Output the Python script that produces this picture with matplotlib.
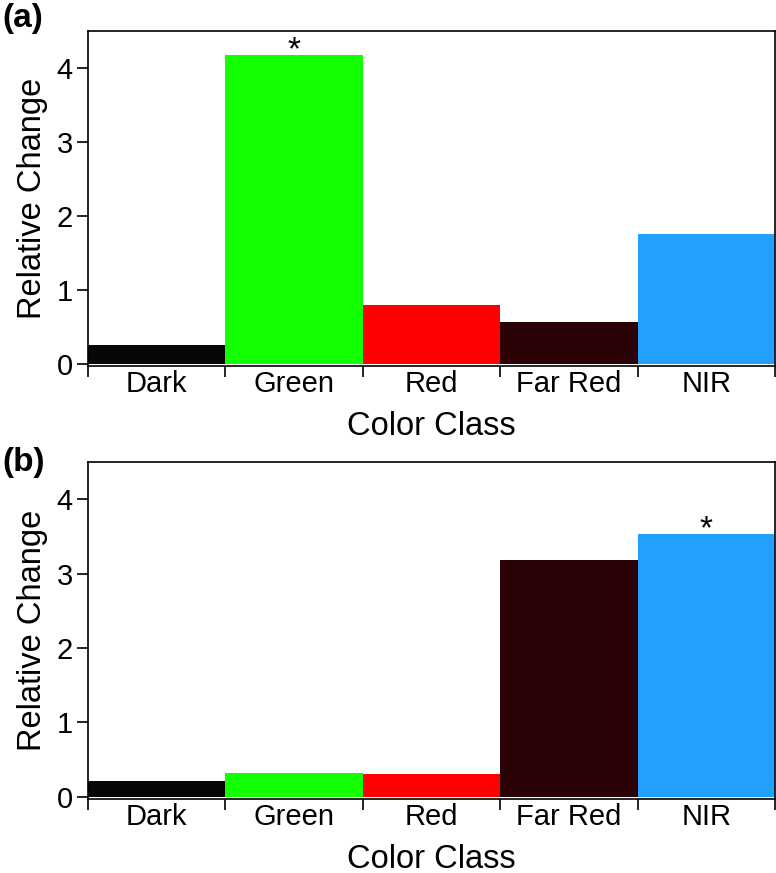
import matplotlib
matplotlib.use("Agg")
import matplotlib.pyplot as plt
import numpy as np

plt.rcParams['font.family'] = ['Liberation Sans', 'DejaVu Sans']

categories = ["Dark", "Green", "Red", "Far Red", "NIR"]
values_a = [0.26, 4.18, 0.80, 0.56, 1.76]
values_b = [0.21, 0.32, 0.30, 3.18, 3.53]
colors = ["#060606", "#12ff00", "#ff0000", "#2b0205", "#22a0ff"]
star_a = [1]
star_b = [4]
yticks = [0, 1, 2, 3, 4]

fig = plt.figure(figsize=(7.76, 8.73), dpi=100)
ax_a = fig.add_axes([0.1134, 0.5808, 0.8853, 0.3837])
ax_b = fig.add_axes([0.1134, 0.0848, 0.8853, 0.3860])

def draw(ax, vals, stars):
    x = np.arange(len(categories))
    ax.bar(x, vals, width=1.0, color=colors, edgecolor='none', zorder=2)
    for i in stars:
        ax.text(x[i], vals[i] - 0.06, "*", ha='center', va='baseline', fontsize=24)
    ax.set_xlim(-0.5, len(categories) - 0.5)
    ax.set_ylim(-0.03, 4.5)
    ax.set_xticks(np.arange(len(categories) + 1) - 0.5)
    ax.set_xticklabels([])
    ax.set_xticks(x, minor=True)
    ax.set_xticklabels(categories, minor=True, fontsize=21)
    ax.tick_params(axis='x', which='major', direction='out', length=8, width=1.2)
    ax.tick_params(axis='x', which='minor', length=0, pad=3)
    ax.set_yticks(yticks)
    ax.set_yticklabels([str(t) for t in yticks], fontsize=21)
    ax.tick_params(axis='y', direction='out', length=8, width=1.2, pad=3)
    for s in ax.spines.values():
        s.set_linewidth(1.2)
    ax.set_xlabel("Color Class", fontsize=23.5, labelpad=9)
    ax.set_ylabel("Relative Change", fontsize=23.5, labelpad=6)

draw(ax_a, values_a, star_a)
draw(ax_b, values_b, star_b)
fig.text(0.003, 0.979, "(a)", fontsize=24, fontweight='bold', ha='left', va='center')
fig.text(0.003, 0.4705, "(b)", fontsize=24, fontweight='bold', ha='left', va='center')

fig.savefig("out.png", dpi=100)
